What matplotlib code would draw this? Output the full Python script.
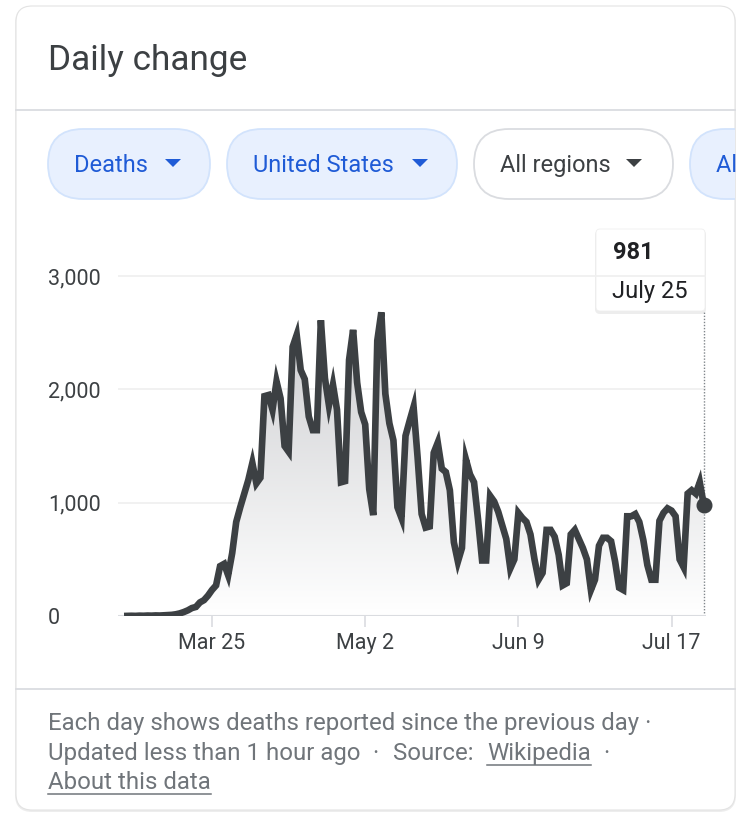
import numpy as np
import pandas as pd
import matplotlib
matplotlib.use('Agg')
import matplotlib.pyplot as plt
import matplotlib.dates as mdates
from matplotlib.patches import FancyBboxPatch, Polygon
from matplotlib.colors import LinearSegmentedColormap

plt.rcParams['font.family'] = ['Roboto', 'DejaVu Sans']

# daily deaths, Mar 4 - Jul 25 2020
dates = pd.date_range('2020-03-04', '2020-07-25', freq='D')
deaths = [1, 2, 1, 3, 2, 4, 3, 5, 4, 6, 8, 10,
          15, 23, 35, 50, 70, 80, 120, 140, 180,
          230, 270, 440, 460, 360, 555, 830, 960, 1080, 1200, 1350, 1170, 1220,
          1940, 1950, 1820, 2070, 1920, 1500, 1450, 2375, 2480, 2170, 2090, 1760, 1640, 1640,
          2610, 2100, 1860, 2040, 1820, 1180, 1190, 2260, 2525, 2060, 1800, 1690, 1120, 890,
          2430, 2680, 1960, 1700, 1550, 960, 865, 1590, 1720, 1845, 1400, 900, 780, 790,
          1440, 1530, 1300, 1270, 1110, 650, 480, 600, 1380, 1250, 1180, 850, 490, 490,
          1060, 1010, 920, 800, 680, 420, 500, 910, 865, 830, 720, 500, 320, 380,
          760, 760, 700, 540, 270, 290, 720, 760, 680, 600, 500, 230, 320, 620,
          690, 690, 660, 480, 250, 230, 880, 880, 900, 830, 670, 450, 320, 320,
          840, 910, 950, 930, 880, 500, 430, 1080, 1110, 1080, 1180, 981]

tick_dates = ['2020-03-25', '2020-05-02', '2020-06-09', '2020-07-17']
tick_labels = ['Mar 25', 'May 2', 'Jun 9', 'Jul 17']
y_ticks = [0, 1000, 2000, 3000]
y_labels = ['0', '1,000', '2,000', '3,000']

W, H = 738, 814
fig = plt.figure(figsize=(W / 100, H / 100), dpi=100)
fig.patch.set_facecolor('white')


def box(l, t, r, b):
    return [l / W, 1 - b / H, (r - l) / W, (b - t) / H]


bg = fig.add_axes([0, 0, 1, 1])
bg.set_xlim(0, W)
bg.set_ylim(H, 0)
bg.axis('off')

# card
shadow = FancyBboxPatch((15, 6), 721, 806, boxstyle='round,pad=0,rounding_size=17',
                        fc='black', ec='none', alpha=0.07)
bg.add_patch(shadow)
card = FancyBboxPatch((16, 6), 719, 804, boxstyle='round,pad=0,rounding_size=16',
                      fc='white', ec='#e3e3e3', lw=0.8)
bg.add_patch(card)

bg.text(48, 70, 'Daily change', fontsize=25.3, color='#3c4043', va='baseline')
bg.plot([16, 735], [110, 110], color='#dadce0', lw=1.3)
bg.plot([16, 735], [689, 689], color='#dadce0', lw=1.3)

# filter chips (the last one runs off the card, as in the screenshot)
chips = [('Deaths', 48, 210, 74, 173, True),
         ('United States', 227, 457, 253, 420, True),
         ('All regions', 474, 673, 500, 634, False),
         ('All time', 690, 830, 716, None, True)]
for label, x0, x1, tx, ax_c, blue in chips:
    fc = '#e8f0fe' if blue else 'white'
    ec = '#d2e3fc' if blue else '#dadce0'
    tc = '#1f5bd6' if blue else '#3c4043'
    p = FancyBboxPatch((x0, 129), x1 - x0, 70, boxstyle='round,pad=0,rounding_size=35',
                       fc=fc, ec=ec, lw=1.3)
    bg.add_patch(p)
    p.set_clip_path(card)
    t = bg.text(tx, 172, label, fontsize=17, color=tc, va='baseline')
    t.set_clip_path(card)
    if ax_c is not None:
        bg.add_patch(Polygon([(ax_c - 8, 159), (ax_c + 8, 159), (ax_c, 167)],
                             closed=True, fc=tc, ec='none'))

# chart
ax = fig.add_axes(box(118, 240, 706, 616))
ax.patch.set_alpha(0)
x = dates.to_numpy()
y = np.array(deaths)
xn = mdates.date2num(x)

poly = ax.fill_between(x, y, 0, facecolor='none', edgecolor='none')
cmap = LinearSegmentedColormap.from_list('fade', ['#ffffff', '#cccdd0'])
im = ax.imshow(np.linspace(1, 0, 256).reshape(-1, 1), extent=[xn[0], xn[-1], 0, 2700],
               aspect='auto', cmap=cmap, vmin=0, vmax=1, zorder=1)
im.set_clip_path(poly.get_paths()[0], transform=ax.transData)

ax.plot(x, y, color='#3c4043', lw=4.8, solid_joinstyle='miter', zorder=3)
ax.vlines(x[-1], 0, 2690, colors='#80868b', linestyles=(0, (1, 1.2)), lw=1, zorder=2)
ax.plot(x[-1], y[-1], 'o', ms=10.5, color='#3c4043', clip_on=False, zorder=5)

ax.set_xlim(xn[0] - 2.33, xn[-1] + 0.55)
ax.set_ylim(0, 3318)
ax.set_xticks(mdates.date2num(pd.to_datetime(tick_dates).to_numpy()))
ax.set_xticklabels(tick_labels)
ax.set_yticks(y_ticks)
ax.set_yticklabels(y_labels)
ax.tick_params(axis='x', length=8, width=1.2, color='#dadce0', pad=4.5,
               labelsize=15.5, labelcolor='#3c4043')
ax.tick_params(axis='y', length=0, pad=50.4, labelsize=15.5, labelcolor='#3c4043')
for lab in ax.get_yticklabels():
    lab.set_ha('left')
for s in ax.spines.values():
    s.set_visible(False)
ax.grid(axis='y', color='#f0f0f0', lw=1.3)
ax.set_axisbelow(True)
ax.axhline(0, color='#dadce0', lw=1.5, zorder=2)

# tooltip
bg.add_patch(FancyBboxPatch((595, 230), 111, 84, boxstyle='round,pad=0,rounding_size=5',
                            fc='black', ec='none', alpha=0.07))
bg.add_patch(FancyBboxPatch((596, 229), 109, 82, boxstyle='round,pad=0,rounding_size=4',
                            fc='white', ec='#efefef', lw=0.6))
bg.text(613, 259, f'{y[-1]:,}', fontsize=17, fontweight='bold', color='#202124', va='baseline')
bg.text(612, 298, dates[-1].strftime('%B ') + str(dates[-1].day), fontsize=17,
        color='#202124', va='baseline')

# footer
fc_ = '#70757a'
fs = 17.3
bg.text(48, 730, 'Each day shows deaths reported since the previous day \u00b7',
        fontsize=fs, color=fc_, va='baseline')
bg.text(48, 760, 'Updated less than 1 hour ago', fontsize=fs, color=fc_, va='baseline')
bg.text(375, 760, '\u00b7', fontsize=fs, color=fc_, va='baseline', ha='center')
bg.text(393, 760, 'Source:', fontsize=fs, color=fc_, va='baseline')
wiki = bg.text(487, 760, 'Wikipedia', fontsize=fs, color=fc_, va='baseline')
bg.text(606, 760, '\u00b7', fontsize=fs, color=fc_, va='baseline', ha='center')
about = bg.text(48, 789, 'About this data', fontsize=fs, color=fc_, va='baseline')

r = fig.canvas.get_renderer()
for t, yb in [(wiki, 765), (about, 794)]:
    bb = t.get_window_extent(r)
    bg.plot([bb.x0, bb.x1], [yb, yb], color=fc_, lw=1.1)

fig.savefig('out.png', dpi=100)
